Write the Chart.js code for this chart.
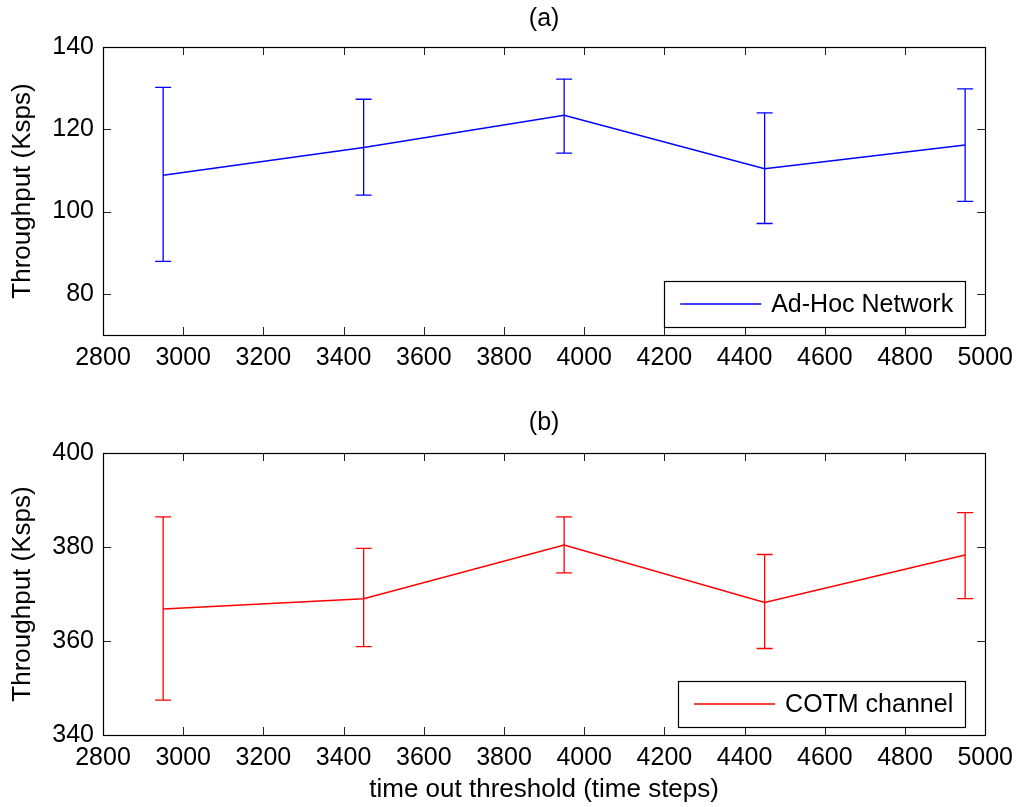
<!DOCTYPE html>
<html>
<head>
<meta charset="utf-8">
<script src="https://cdn.jsdelivr.net/npm/chart.js@4.4.0/dist/chart.umd.min.js"></script>
<style>
  html, body { margin: 0; padding: 0; background: #ffffff; }
  #wrap { position: relative; width: 1021px; height: 807px; }
  .pane { position: absolute; left: 0; width: 1021px; }
</style>
</head>
<body>
<div id="wrap">
  <div class="pane" style="top:0;height:400px"><canvas id="chartA"></canvas></div>
  <div class="pane" style="top:400px;height:407px"><canvas id="chartB"></canvas></div>
</div>
<script>
// time out thresholds (time steps)
const timeouts = [2950, 3450, 3950, 4450, 4950];

// (a) Ad-Hoc Network throughput: mean and error-bar limits (Ksps)
const adhocMean = [108.8, 115.6, 123.4, 110.4, 116.2];
const adhocLow  = [87.9, 104.0, 114.2, 97.1, 102.5];
const adhocHigh = [130.2, 127.3, 132.2, 124.0, 129.8];

// (b) COTM channel throughput: mean and error-bar limits (Ksps)
const cotmMean = [366.8, 369.0, 380.4, 368.2, 378.3];
const cotmLow  = [347.4, 358.8, 374.5, 358.4, 369.0];
const cotmHigh = [386.4, 379.7, 386.4, 378.4, 387.3];

// tick labels
const xTicks  = [2800, 3000, 3200, 3400, 3600, 3800, 4000, 4200, 4400, 4600, 4800, 5000];
const yTicksA = [80, 100, 120, 140];
const yTicksB = [340, 360, 380, 400];

const FONT = "'Liberation Sans', Arial, Helvetica, sans-serif";

// vertical error bars with caps, positioned through the chart's own scales
const errorBarPlugin = {
  id: 'errorBars',
  afterDatasetsDraw(chart) {
    const ctx = chart.ctx;
    const xs = chart.scales.x, ys = chart.scales.y;
    chart.data.datasets.forEach((ds) => {
      if (!ds.errLow) return;
      ctx.save();
      ctx.strokeStyle = ds.borderColor;
      ctx.lineWidth = 1.3;
      const cap = 8;
      ds.data.forEach((p, j) => {
        const x = xs.getPixelForValue(p.x);
        const yl = ys.getPixelForValue(ds.errLow[j]);
        const yh = ys.getPixelForValue(ds.errHigh[j]);
        ctx.beginPath();
        ctx.moveTo(x, yl); ctx.lineTo(x, yh);
        ctx.moveTo(x - cap, yl); ctx.lineTo(x + cap, yl);
        ctx.moveTo(x - cap, yh); ctx.lineTo(x + cap, yh);
        ctx.stroke();
      });
      ctx.restore();
    });
  }
};

// boxed axes with inward tick marks on all four sides
const framePlugin = {
  id: 'frame',
  afterDraw(chart) {
    const ctx = chart.ctx;
    const a = chart.chartArea;
    const xs = chart.scales.x, ys = chart.scales.y;
    const len = 8;
    ctx.save();
    ctx.strokeStyle = '#222222';
    ctx.lineWidth = 1;
    ctx.beginPath();
    xs.ticks.forEach(t => {
      const x = Math.round(xs.getPixelForValue(t.value)) + 0.5;
      ctx.moveTo(x, a.bottom); ctx.lineTo(x, a.bottom - len);
      ctx.moveTo(x, a.top); ctx.lineTo(x, a.top + len);
    });
    ys.ticks.forEach(t => {
      const y = Math.round(ys.getPixelForValue(t.value)) + 0.5;
      ctx.moveTo(a.left, y); ctx.lineTo(a.left + len, y);
      ctx.moveTo(a.right, y); ctx.lineTo(a.right - len, y);
    });
    ctx.stroke();
    ctx.strokeStyle = '#000000';
    ctx.lineWidth = 1.2;
    ctx.strokeRect(Math.round(a.left) + 0.5, Math.round(a.top) + 0.5,
                   Math.round(a.right - a.left), Math.round(a.bottom - a.top));
    ctx.restore();
  }
};

// boxed legend in the lower right corner of the plot area
const boxLegendPlugin = {
  id: 'boxLegend',
  afterDraw(chart) {
    const ctx = chart.ctx;
    const a = chart.chartArea;
    const ds = chart.data.datasets[0];
    const fontSize = 25;
    ctx.save();
    ctx.font = fontSize + 'px ' + FONT;
    const tw = ctx.measureText(ds.label).width;
    const padL = 16, lineLen = 81, gap = 10, padR = 12, h = 46;
    const w = padL + lineLen + gap + tw + padR;
    const right = a.right - 20, bottom = a.bottom - 8;
    const left = right - w, top = bottom - h;
    ctx.fillStyle = '#ffffff';
    ctx.fillRect(left, top, w, h);
    ctx.strokeStyle = '#000000';
    ctx.lineWidth = 1.2;
    ctx.strokeRect(Math.round(left) + 0.5, Math.round(top) + 0.5, Math.round(w), Math.round(h));
    const cy = top + h / 2;
    ctx.strokeStyle = ds.borderColor;
    ctx.lineWidth = 1.3;
    ctx.beginPath();
    ctx.moveTo(left + padL, cy); ctx.lineTo(left + padL + lineLen, cy);
    ctx.stroke();
    ctx.fillStyle = '#000000';
    ctx.textBaseline = 'middle';
    ctx.textAlign = 'left';
    ctx.fillText(ds.label, left + padL + lineLen + gap, cy + 1);
    ctx.restore();
  }
};

function makeChart(id, cfg) {
  const points = timeouts.map((t, i) => ({ x: t, y: cfg.mean[i] }));
  return new Chart(document.getElementById(id), {
    type: 'line',
    data: {
      datasets: [{
        label: cfg.label,
        data: points,
        errLow: cfg.low,
        errHigh: cfg.high,
        borderColor: cfg.color,
        backgroundColor: cfg.color,
        borderWidth: 1.5,
        pointRadius: 0,
        tension: 0,
        fill: false
      }]
    },
    options: {
      responsive: true,
      maintainAspectRatio: false,
      animation: false,
      devicePixelRatio: 1,
      layout: { padding: { left: 0, right: 34, top: 0, bottom: 0 } },
      plugins: {
        legend: { display: false },
        tooltip: { enabled: false },
        title: {
          display: true,
          fullSize: false,
          text: cfg.title,
          color: '#000000',
          font: { family: FONT, size: 25, weight: 'normal' },
          padding: cfg.titlePad
        }
      },
      scales: {
        x: {
          type: 'linear',
          min: 2800,
          max: 5000,
          afterBuildTicks: s => { s.ticks = xTicks.map(v => ({ value: v })); },
          afterFit: s => { s.height = cfg.xHeight; },
          grid: { display: false, drawTicks: false },
          border: { display: false },
          ticks: {
            color: '#000000',
            padding: 8,
            maxRotation: 0,
            autoSkip: false,
            font: { family: FONT, size: 25 },
            callback: v => String(v)
          },
          title: {
            display: !!cfg.xTitle,
            text: cfg.xTitle || '',
            color: '#000000',
            font: { family: FONT, size: 26 },
            padding: { top: 0, bottom: 2 }
          }
        },
        y: {
          min: cfg.yMin,
          max: cfg.yMax,
          afterBuildTicks: s => { s.ticks = cfg.yTicks.map(v => ({ value: v })); },
          afterFit: s => { s.width = 103; },
          grid: { display: false, drawTicks: false },
          border: { display: false },
          ticks: {
            color: '#000000',
            padding: 9,
            font: { family: FONT, size: 25 },
            callback: v => String(v)
          },
          title: {
            display: true,
            text: 'Throughput (Ksps)',
            color: '#000000',
            font: { family: FONT, size: 26 },
            padding: { top: 7, bottom: 0 }
          }
        }
      }
    },
    plugins: [errorBarPlugin, framePlugin, boxLegendPlugin]
  });
}

makeChart('chartA', {
  label: 'Ad-Hoc Network',
  title: '(a)',
  titlePad: { top: 4, bottom: 13 },
  color: '#0000ff',
  mean: adhocMean, low: adhocLow, high: adhocHigh,
  yMin: 70, yMax: 140, yTicks: yTicksA,
  xHeight: 65
});

makeChart('chartB', {
  label: 'COTM channel',
  title: '(b)',
  titlePad: { top: 8, bottom: 15 },
  color: '#ff0000',
  mean: cotmMean, low: cotmLow, high: cotmHigh,
  yMin: 340, yMax: 400, yTicks: yTicksB,
  xHeight: 72,
  xTitle: 'time out threshold (time steps)'
});
</script>
</body>
</html>
